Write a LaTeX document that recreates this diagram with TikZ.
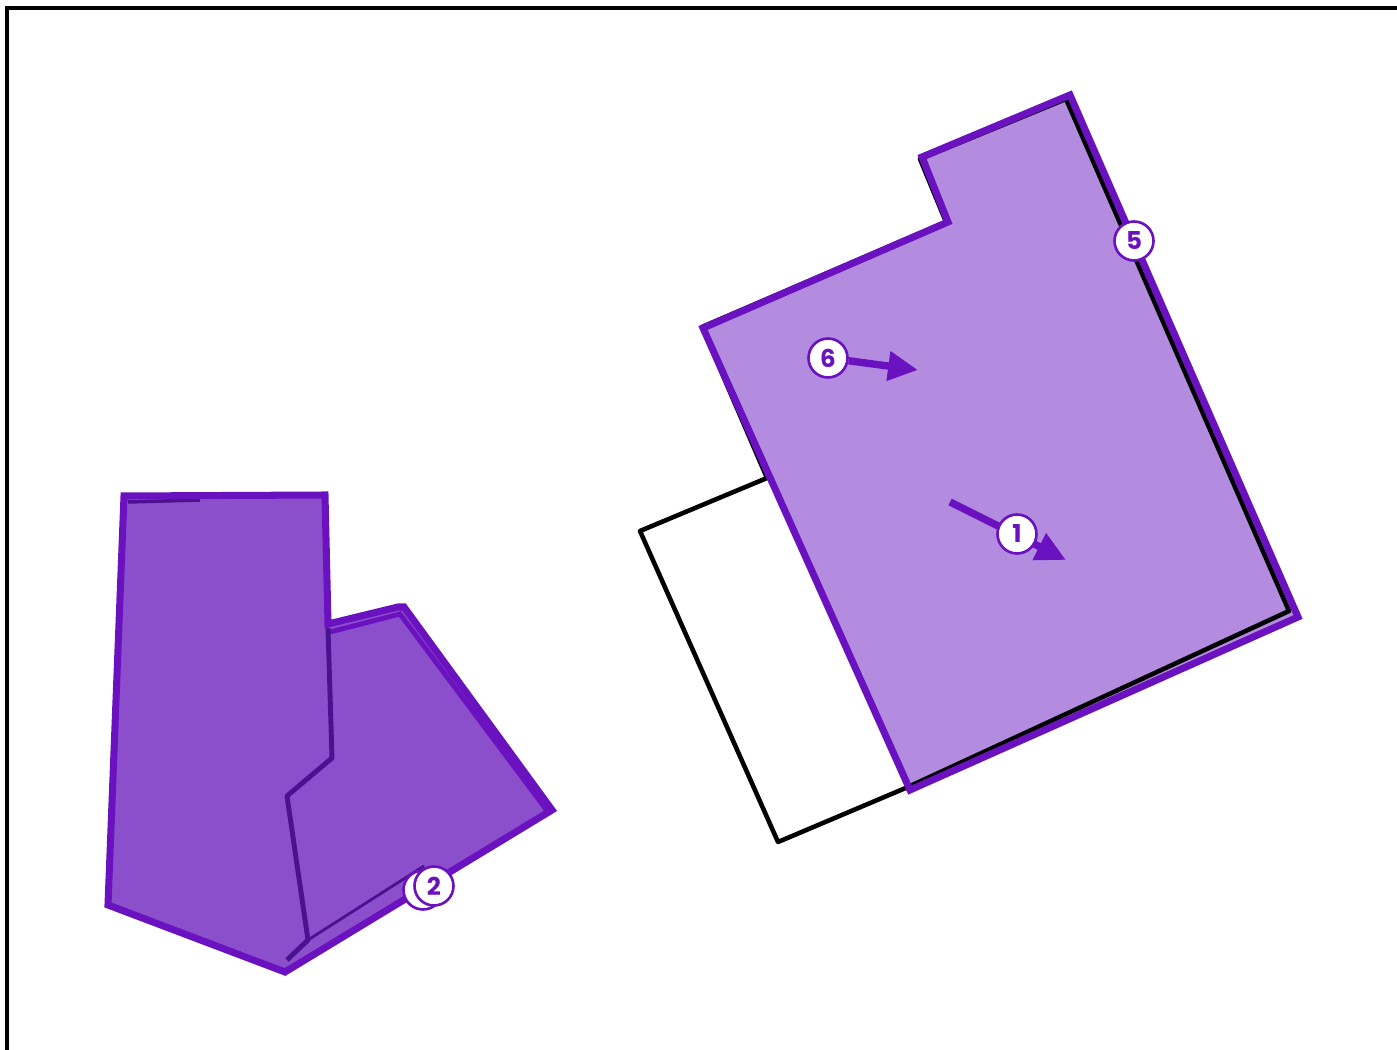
\documentclass[tikz,border=0pt]{standalone}
\usepackage{fontspec}
\newfontfamily\lblfont{Poppins}
\usetikzlibrary{arrows.meta}
\definecolor{editline}{HTML}{6A12C0}
\definecolor{editfill}{HTML}{B38BDF}
\definecolor{groupfill}{HTML}{8B4FCC}
\definecolor{ghostline}{HTML}{4A1290}

\begin{document}
\begin{tikzpicture}[
    x=0.02cm, y=-0.02cm,
    outline/.style={draw=editline, line width=4pt, line join=miter},
    ghost/.style={draw=ghostline, line width=2.8pt, line join=round},
    oldshape/.style={draw=black, line width=2.6pt, line join=round},
    marker/.style={circle, draw=editline, line width=1.5pt, fill=white, minimum size=0.78cm, inner sep=0pt, text=editline, font=\lblfont\bfseries\fontsize{14}{14}\selectfont},
    editarrow/.style={draw=editline, line width=4.2pt, -{Triangle[length=17pt, width=16pt]}}
]
  \useasboundingbox (0,0) rectangle (1397,1050);
  % frame
  \draw [line width=2pt] (7,1050) -- (7,8) -- (1397,8);

  % left group
  \fill [groupfill] (124,496) -- (325,495) -- (328,624) -- (398,607) -- (404,607) -- (552,810) -- (285,972) -- (108,905) -- cycle;
  \draw [draw=editline, line width=2.8pt] (330,632) -- (400,614) -- (548,812);
  \draw [ghost, line width=1.6pt] (308,940) -- (424,866);
  \draw [ghost, line width=2pt] (128,502) -- (200,500);
  \draw [ghost] (328,628) -- (332,758) -- (287,796) -- (308,940) -- (287,960);
  \draw [outline] (124,496) -- (325,495) -- (328,624) -- (398,607) -- (404,607) -- (552,810) -- (285,972) -- (108,905) -- cycle;

  % right shape
  \fill [editfill] (703,328) -- (948,222) -- (922,157) -- (1070,95) -- (1298,617) -- (910,790) -- cycle;
  \draw [oldshape] (767,478) -- (640,531) -- (778,842) -- (908,787) -- (1289,611) -- (1066,99) -- (920,159) -- (946,222) -- (702,327) -- cycle;
  \draw [outline] (703,328) -- (948,222) -- (922,157) -- (1070,95) -- (1298,617) -- (910,790) -- cycle;

  % arrows and markers
  \coordinate (tail1) at (950,502);
  \coordinate (tip1) at (1066,560);
  \coordinate (tip6) at (918,370);
  \draw [editarrow] (tail1) -- (tip1);
  \node (lbl1) [marker] at (1017,534) {1};
  \node (lbl6) [marker] at (828,358) {6};
  \draw [editarrow] (lbl6) -- (tip6);
  \node (lbl5) [marker] at (1134,241) {5};
  \node (lbl2b) [marker] at (423,890) {};
  \node (lbl2) [marker] at (434,886) {2};
\end{tikzpicture}
\end{document}
